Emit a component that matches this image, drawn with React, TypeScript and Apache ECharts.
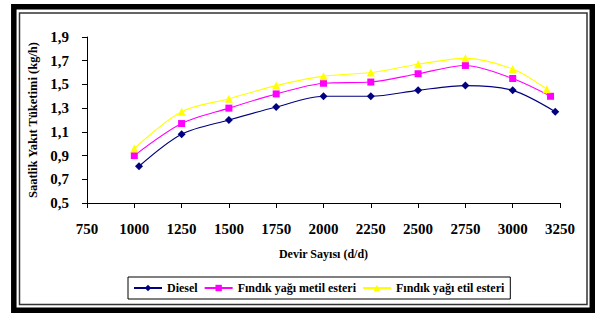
import React, { useEffect, useRef } from "react";
import * as echarts from "echarts";

const xDiesel = [1025, 1250, 1500, 1750, 2000, 2250, 2500, 2750, 3000, 3225];
const yDiesel = [0.81, 1.08, 1.2, 1.31, 1.4, 1.4, 1.45, 1.49, 1.45, 1.27];
const xMetil = [1000, 1250, 1500, 1750, 2000, 2250, 2500, 2750, 3000, 3200];
const yMetil = [0.9, 1.17, 1.3, 1.42, 1.51, 1.52, 1.59, 1.66, 1.55, 1.4];
const xEtil = [1000, 1250, 1500, 1750, 2000, 2250, 2500, 2750, 3000, 3180];
const yEtil = [0.96, 1.27, 1.38, 1.49, 1.57, 1.6, 1.67, 1.72, 1.63, 1.46];

const seriesNames = ["Diesel", "Fındık yağı metil esteri", "Fındık yağı etil esteri"];
const xAxisTitle = "Devir Sayısı (d/d)";
const yAxisTitle = "Saatlik Yakıt Tüketimi (kg/h)";

const FONT = "'Liberation Serif', 'Times New Roman', serif";

const pairs = (xs: number[], ys: number[]) => xs.map((x, i) => [x, ys[i]]);

export default function App() {
  const ref = useRef<HTMLDivElement>(null);
  useEffect(() => {
    if (!ref.current) return;
    const chart = echarts.init(ref.current, null, { renderer: "svg" });
    const mk = (name: string, data: number[][], color: string, symbol: string, size: number) => ({
      name,
      type: "line",
      data,
      smooth: 0.3,
      symbol,
      symbolSize: size,
      showSymbol: true,
      lineStyle: { color, width: 1.1 },
      itemStyle: { color },
    });
    chart.setOption({
      animation: false,
      backgroundColor: "#ffffff",
      textStyle: { fontFamily: FONT },
      grid: { left: 87, top: 37, right: 35, bottom: 110, containLabel: false },
      xAxis: {
        type: "value",
        min: 750,
        max: 3250,
        interval: 250,
        name: xAxisTitle,
        nameLocation: "middle",
        nameGap: 45,
        nameTextStyle: { fontFamily: FONT, fontWeight: "bold", fontSize: 12, color: "#000" },
        axisLine: { lineStyle: { color: "#000", width: 1 } },
        axisTick: { show: true, length: 5, lineStyle: { color: "#000" } },
        axisLabel: {
          fontFamily: FONT,
          fontWeight: "bold",
          fontSize: 15,
          color: "#000",
          margin: 18,
          formatter: (v: number) => String(v),
        },
        splitLine: { show: false },
      },
      yAxis: {
        type: "value",
        min: 0.5,
        max: 1.9,
        interval: 0.2,
        name: yAxisTitle,
        nameLocation: "middle",
        nameGap: 38,
        nameTextStyle: { fontFamily: FONT, fontWeight: "bold", fontSize: 12.5, color: "#000" },
        axisLine: { show: true, lineStyle: { color: "#000", width: 1 } },
        axisTick: { show: true, length: 5, lineStyle: { color: "#000" } },
        axisLabel: {
          fontFamily: FONT,
          fontWeight: "bold",
          fontSize: 15,
          color: "#000",
          margin: 18,
          formatter: (v: number) => v.toFixed(1).replace(".", ","),
        },
        splitLine: { show: false },
      },
      legend: {
        left: 128,
        top: 277,
        orient: "horizontal",
        borderColor: "#000",
        borderWidth: 1,
        padding: [5, 6, 5, 5],
        itemWidth: 28,
        itemHeight: 8,
        itemGap: 6,
        textStyle: { fontFamily: FONT, fontWeight: "bold", fontSize: 12, color: "#000" },
        data: seriesNames,
      },
      series: [
        mk(seriesNames[0], pairs(xDiesel, yDiesel), "#000080", "diamond", 8),
        mk(seriesNames[1], pairs(xMetil, yMetil), "#FF00FF", "rect", 7),
        mk(seriesNames[2], pairs(xEtil, yEtil), "#FFFF00", "triangle", 8),
      ],
      graphic: [
        {
          type: "rect",
          silent: true,
          shape: { x: 13.8, y: 6.8, width: 578.5, height: 303.5 },
          style: { fill: "none", stroke: "#000", lineWidth: 5.5 },
        },
        {
          type: "rect",
          silent: true,
          shape: { x: 19.5, y: 13, width: 567.5, height: 291.5 },
          style: { fill: "none", stroke: "#333", lineWidth: 1.5 },
        },
      ],
    });
    return () => chart.dispose();
  }, []);
  return <div ref={ref} style={{ width: 595, height: 313, position: "absolute", left: 0, top: 0 }} />;
}
